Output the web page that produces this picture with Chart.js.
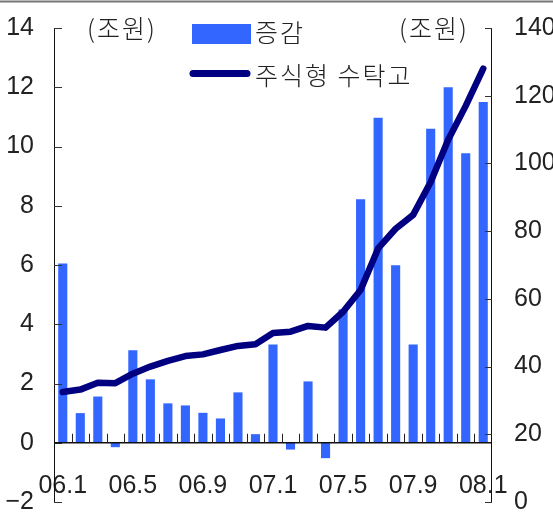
<!DOCTYPE html>
<html>
<head>
<meta charset="utf-8">
<script src="https://cdn.jsdelivr.net/npm/chart.js@4/dist/chart.umd.min.js"></script>
<style>
  html, body { margin: 0; padding: 0; background: #fff; }
  #wrap { width: 553px; height: 519px; position: relative; }
</style>
</head>
<body>
<div id="wrap"><canvas id="c" width="553" height="519"></canvas></div>
<script>
// Monthly categories, 2006.1 – 2008.1
const months = [
  '06.1','06.2','06.3','06.4','06.5','06.6','06.7','06.8','06.9','06.10','06.11','06.12',
  '07.1','07.2','07.3','07.4','07.5','07.6','07.7','07.8','07.9','07.10','07.11','07.12',
  '08.1'
];
// Monthly change (조원), left axis
const change = [
  6.05, 1.0, 1.56, -0.15, 3.12, 2.14, 1.33, 1.26, 1.01, 0.82, 1.70, 0.29,
  3.32, -0.23, 2.07, -0.52, 4.5, 8.22, 10.97, 5.99, 3.32, 10.6, 12.0, 9.77,
  11.5
];
// Equity fund balance (조원), right axis
const balance = [
  32.5, 33.2, 35.2, 35.1, 37.9, 40.0, 41.7, 43.1, 43.6, 44.9, 46.1, 46.6,
  49.9, 50.3, 52.0, 51.5, 56.2, 62.6, 74.9, 80.7, 84.8, 94.5, 107.0, 117.0,
  128.0
];
const leftTicks = { min: -2, max: 14, step: 2 };
const rightTicks = { min: 0, max: 140, step: 20 };
const seriesNames = ['증감', '주식형 수탁고'];
const unitLabel = '(조원)';

const BAR_COLOR = '#3366ff';
const LINE_COLOR = '#000080';
const NUM_FONT = "'Liberation Sans', Arial, sans-serif";
const KR_FONT = "'Noto Sans CJK KR', sans-serif";

// Fixed axis band widths; label overhang is not allowed to shrink the plot
function fixAxis(width) {
  return (s) => {
    if (width !== null) s.width = width;
    s.paddingTop = 0; s.paddingBottom = 0; s.paddingLeft = 0; s.paddingRight = 0;
  };
}

// Axis lines, inward tick marks, legend and unit captions
const decorations = {
  id: 'decorations',
  afterDatasetsDraw(chart) {
    const { ctx, chartArea: a, scales } = chart;
    const y = scales.y, y1 = scales.y1, x = scales.x;
    ctx.save();
    ctx.strokeStyle = '#111';
    ctx.lineWidth = 1;
    // vertical axis lines
    ctx.beginPath();
    ctx.moveTo(Math.round(a.left) + 0.5, a.top);
    ctx.lineTo(Math.round(a.left) + 0.5, a.bottom);
    ctx.moveTo(Math.round(a.right) - 0.5, a.top);
    ctx.lineTo(Math.round(a.right) - 0.5, a.bottom);
    ctx.stroke();
    // axis ticks pointing into the plot
    ctx.strokeStyle = '#333';
    ctx.beginPath();
    for (let v = leftTicks.min; v <= leftTicks.max; v += leftTicks.step) {
      const py = Math.round(y.getPixelForValue(v)) + 0.5;
      ctx.moveTo(a.left, py);
      ctx.lineTo(a.left + 8, py);
    }
    for (let v = rightTicks.min; v <= rightTicks.max; v += rightTicks.step) {
      const py = Math.round(y1.getPixelForValue(v)) + 0.5;
      ctx.moveTo(a.right, py);
      ctx.lineTo(a.right - 7, py);
    }
    ctx.stroke();
    // zero line
    const zy = y.getPixelForValue(0);
    ctx.strokeStyle = '#111';
    ctx.lineWidth = 1.5;
    ctx.beginPath();
    ctx.moveTo(a.left, zy);
    ctx.lineTo(a.right, zy);
    ctx.stroke();
    // category boundary ticks above the zero line
    ctx.lineWidth = 1;
    ctx.strokeStyle = '#222';
    ctx.beginPath();
    for (let i = 0; i < months.length - 1; i++) {
      const px = Math.round((x.getPixelForValue(i) + x.getPixelForValue(i + 1)) / 2) + 0.5;
      ctx.moveTo(px, zy);
      ctx.lineTo(px, zy - 9);
    }
    ctx.stroke();
    ctx.restore();
  },
  afterDraw(chart) {
    const { ctx } = chart;
    ctx.save();
    // thin rule across the top
    ctx.strokeStyle = '#777';
    ctx.lineWidth = 2;
    ctx.beginPath();
    ctx.moveTo(0, 1.5);
    ctx.lineTo(553, 1.5);
    ctx.stroke();
    // unit captions
    ctx.fillStyle = '#222';
    ctx.font = '300 25px ' + KR_FONT;
    ctx.textBaseline = 'middle';
    ctx.textAlign = 'left';
    ctx.letterSpacing = '2px';
    ctx.fillText(unitLabel, 87, 28);
    ctx.fillText(unitLabel, 399, 28);
    // legend
    ctx.fillStyle = BAR_COLOR;
    ctx.fillRect(192, 24, 59, 20);
    ctx.strokeStyle = LINE_COLOR;
    ctx.lineWidth = 7;
    ctx.lineCap = 'round';
    ctx.beginPath();
    ctx.moveTo(193, 73.5);
    ctx.lineTo(247, 73.5);
    ctx.stroke();
    ctx.fillStyle = '#222';
    ctx.fillText(seriesNames[0], 255, 32);
    ctx.fillText(seriesNames[1], 255, 75);
    ctx.restore();
  }
};

new Chart(document.getElementById('c'), {
  data: {
    labels: months,
    datasets: [
      {
        type: 'line',
        label: seriesNames[1],
        data: balance,
        yAxisID: 'y1',
        borderColor: LINE_COLOR,
        borderWidth: 6.5,
        borderCapStyle: 'round',
        borderJoinStyle: 'round',
        pointRadius: 0,
        tension: 0,
        fill: false,
        order: 1
      },
      {
        type: 'bar',
        label: seriesNames[0],
        data: change,
        yAxisID: 'y',
        backgroundColor: BAR_COLOR,
        borderWidth: 0,
        barPercentage: 0.52,
        categoryPercentage: 1.0,
        order: 2
      }
    ]
  },
  options: {
    responsive: false,
    animation: false,
    devicePixelRatio: 1,
    layout: { padding: { top: 28, bottom: 17, left: 0, right: 0 } },
    plugins: { legend: { display: false }, tooltip: { enabled: false } },
    scales: {
      x: {
        type: 'category',
        offset: true,
        position: { y: 0 },
        grid: { display: false, drawTicks: false },
        border: { display: false },
        afterFit: fixAxis(null),
        ticks: {
          autoSkip: false,
          maxRotation: 0,
          padding: 28,
          color: '#222',
          font: { family: NUM_FONT, size: 25 },
          callback: (v, i) => (i % 4 === 0 ? months[i] : '')
        }
      },
      y: {
        position: 'left',
        min: leftTicks.min,
        max: leftTicks.max,
        grid: { display: false, drawTicks: false },
        border: { display: false },
        afterFit: fixAxis(54),
        ticks: {
          stepSize: leftTicks.step,
          padding: 20,
          color: '#222',
          font: { family: NUM_FONT, size: 25 },
          callback: (v) => String(v).replace('-', '\u2212')
        }
      },
      y1: {
        position: 'right',
        min: rightTicks.min,
        max: rightTicks.max,
        grid: { display: false, drawTicks: false },
        border: { display: false },
        afterFit: fixAxis(61),
        ticks: {
          stepSize: rightTicks.step,
          padding: 22,
          color: '#222',
          font: { family: NUM_FONT, size: 25 }
        }
      }
    }
  },
  plugins: [decorations]
});
</script>
</body>
</html>
